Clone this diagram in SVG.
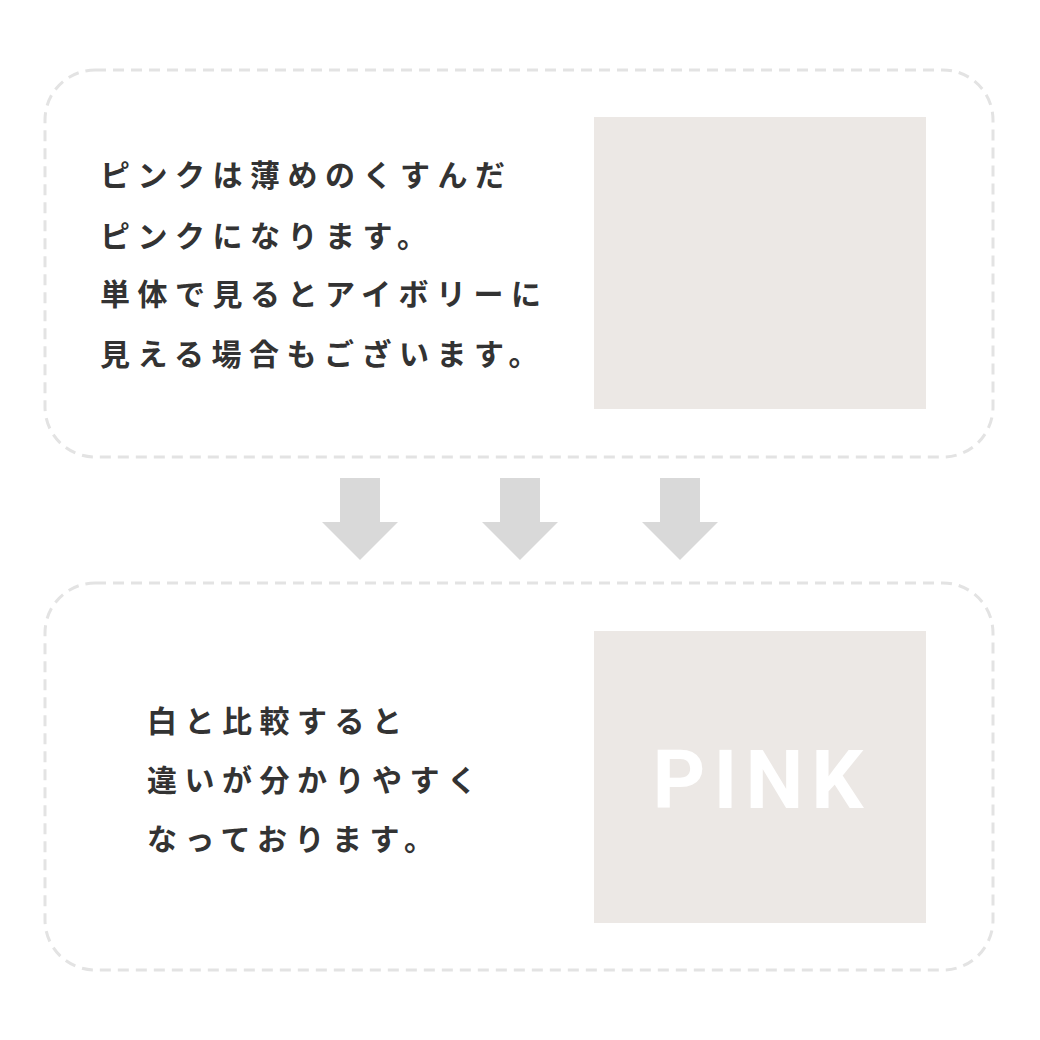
<svg xmlns="http://www.w3.org/2000/svg" width="1040" height="1040" viewBox="0 0 1040 1040">
<style>
.box{fill:#fff;stroke:#e3e3e3;stroke-width:3;stroke-dasharray:11 7}
.sw{fill:#ece8e5}
.t{font-family:"Noto Sans CJK JP","Noto Sans",sans-serif;font-weight:bold;font-size:30px;letter-spacing:7.5px;fill:#333}
.ar{fill:#d9d9d9}
</style>
<rect width="1040" height="1040" fill="#fff"/>
<g id="top">
<rect class="box" x="45" y="70" width="948" height="387" rx="50"/>
<rect class="sw" x="594" y="117" width="332" height="292"/>
<text class="t" x="100" y="186">ピンクは薄めのくすんだ</text>
<text class="t" x="100" y="247">ピンクになります。</text>
<text class="t" x="100" y="305">単体で見るとアイボリーに</text>
<text class="t" x="100" y="365">見える場合もございます。</text>
</g>
<g id="connectors">
<polygon class="ar" points="340,478 380,478 380,522 398,522 360,560 322,522 340,522"/>
<polygon class="ar" points="500,478 540,478 540,522 558,522 520,560 482,522 500,522"/>
<polygon class="ar" points="660,478 700,478 700,522 718,522 680,560 642,522 660,522"/>
</g>
<g id="bottom">
<rect class="box" x="45" y="583" width="948" height="387" rx="50"/>
<rect class="sw" x="594" y="631" width="332" height="292"/>
<text x="762" y="808" text-anchor="middle" font-family="Roboto,'Noto Sans',sans-serif" font-weight="bold" font-size="82" letter-spacing="8" fill="#fff">PINK</text>
<text class="t" x="147" y="732">白と比較すると</text>
<text class="t" x="147" y="791">違いが分かりやすく</text>
<text class="t" x="147" y="850">なっております。</text>
</g>
</svg>
